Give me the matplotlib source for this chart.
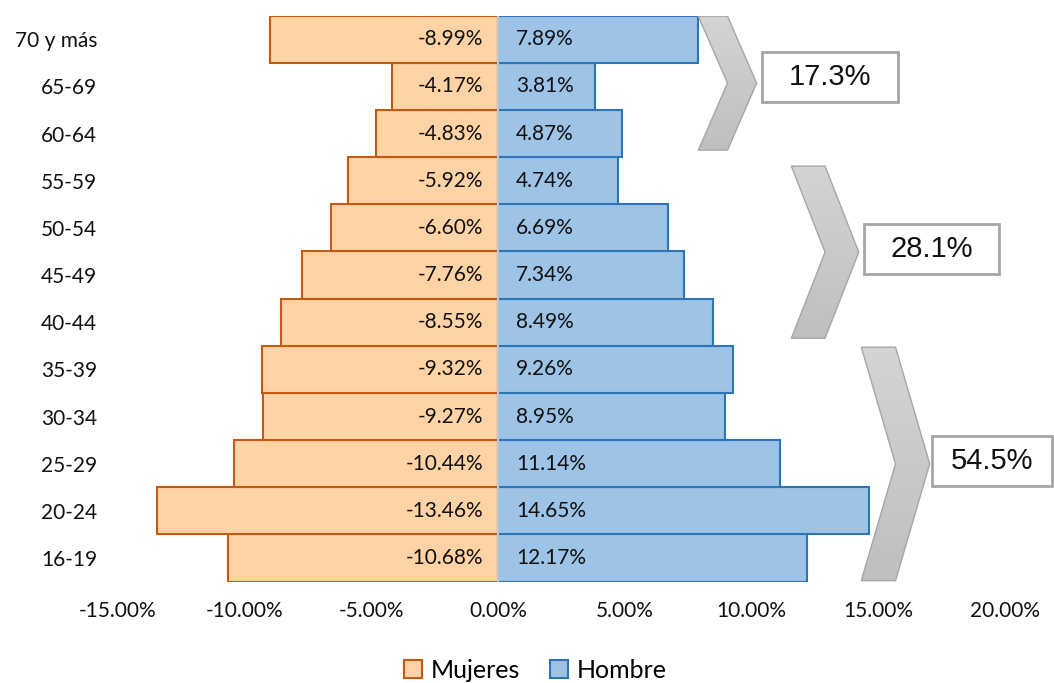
import matplotlib.pyplot as plt
import numpy as np
from matplotlib.patches import Polygon, Rectangle
from matplotlib.colors import LinearSegmentedColormap

plt.rcParams['font.family'] = ['Lato', 'DejaVu Sans']

# age groups, bottom to top
edades = ['16-19', '20-24', '25-29', '30-34', '35-39', '40-44',
          '45-49', '50-54', '55-59', '60-64', '65-69', '70 y más']
mujeres = [-10.68, -13.46, -10.44, -9.27, -9.32, -8.55,
           -7.76, -6.60, -5.92, -4.83, -4.17, -8.99]
hombre = [12.17, 14.65, 11.14, 8.95, 9.26, 8.49,
          7.34, 6.69, 4.74, 4.87, 3.81, 7.89]

# grouped shares shown next to the chevrons
grupos = ['17.3%', '28.1%', '54.5%']
grupo_filas = [(8.65, 11.49), (4.66, 8.31), (-0.48, 4.47)]
chevron_x = [7.9, 11.57, 14.33]
chevron_arm = [1.15, 1.33, 1.35]
caja_x = [(10.42, 15.79), (14.45, 19.78), (17.13, 21.87)]
caja_y = [10.2, 6.55, 2.06]

fig = plt.figure(figsize=(10.54, 6.83), dpi=100)
ax = fig.add_axes([0.112, 0.1485, 0.8415, 0.8285])

y = np.arange(len(edades))
ax.barh(y, mujeres, height=1.0, color='#FFD3A6', edgecolor='#C55A11',
        linewidth=1.5, label='Mujeres')
ax.barh(y, hombre, height=1.0, color='#9DC3E6', edgecolor='#2E75B6',
        linewidth=1.5, label='Hombre')
ax.axvline(0, color='#D9D9D9', linewidth=1.2, zorder=3)

for yi, m, h in zip(y, mujeres, hombre):
    ax.annotate(f'{m:.2f}%', (0, yi), xytext=(-11, 0), textcoords='offset points',
                ha='right', va='center', fontsize=15, color='#111111')
    ax.annotate(f'{h:.2f}%', (0, yi), xytext=(13, 0), textcoords='offset points',
                ha='left', va='center', fontsize=15, color='#111111')

ax.set_xlim(-15, 20)
ax.set_ylim(-0.5, len(edades) - 0.5)
ax.set_yticks(y)
ax.set_yticklabels(edades, fontsize=15, color='#111111')
xt = np.arange(-15, 21, 5)
ax.set_xticks(xt)
ax.set_xticklabels([f'{v:.2f}%' for v in xt], fontsize=15, color='#111111')
ax.tick_params(length=0)
ax.tick_params(axis='x', pad=14)
ax.tick_params(axis='y', pad=15)
for s in ax.spines.values():
    s.set_visible(False)

# gradient chevrons with boxed totals (lighter at the top)
cmap_gris = LinearSegmentedColormap.from_list('gris', ['#BFBFBF', '#D4D4D4'])
grad = np.linspace(0, 1, 256).reshape(-1, 1)
for (y0, y1), x0, arm, (bx0, bx1), by, txt in zip(grupo_filas, chevron_x, chevron_arm,
                                                  caja_x, caja_y, grupos):
    ym = (y0 + y1) / 2
    pts = [(x0, y1), (x0 + arm, y1), (x0 + 2 * arm, ym), (x0 + arm, y0),
           (x0, y0), (x0 + arm, ym)]
    poly = Polygon(pts, closed=True, facecolor='none', edgecolor='#A6A6A6',
                   linewidth=1, zorder=5)
    ax.add_patch(poly)
    im = ax.imshow(grad, cmap=cmap_gris, extent=[x0, x0 + 2 * arm, y0, y1],
                   origin='lower', aspect='auto', zorder=4)
    im.set_clip_path(poly)
    ax.add_patch(Rectangle((bx0, by - 0.53), bx1 - bx0, 1.06, facecolor='white',
                           edgecolor='#A6A6A6', linewidth=2, clip_on=False, zorder=5))
    ax.text((bx0 + bx1) / 2, by, txt, ha='center', va='center', fontsize=21,
            family=['Liberation Sans'], color='#111111', zorder=6, clip_on=False)

ax.set_ylim(-0.5, len(edades) - 0.5)
ax.set_xlim(-15, 20)

fig.legend(*ax.get_legend_handles_labels(), loc='center', bbox_to_anchor=(0.508, 0.019),
           ncol=2, frameon=False, fontsize=18, handlelength=0.7, handleheight=0.7,
           handletextpad=0.35, columnspacing=1.2)

fig.savefig('out.png', dpi=100)
